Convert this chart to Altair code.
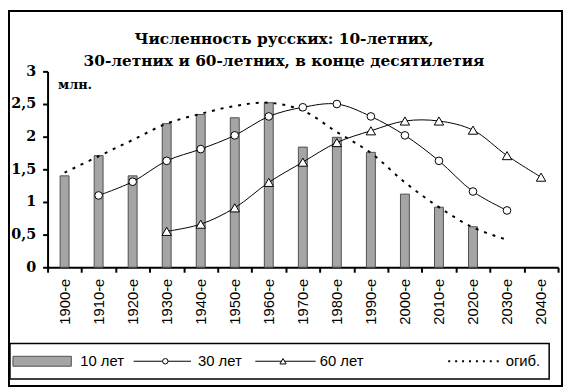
import altair as alt
import pandas as pd

# ---------------- data ----------------
decades = ["1900-е", "1910-е", "1920-е", "1930-е", "1940-е", "1950-е", "1960-е",
           "1970-е", "1980-е", "1990-е", "2000-е", "2010-е", "2020-е", "2030-е", "2040-е"]
age10 = [1.40, 1.71, 1.40, 2.20, 2.34, 2.29, 2.52, 1.84, 1.99, 1.76, 1.12, 0.92, 0.62, None, None]
age30 = [None, 1.10, 1.31, 1.63, 1.81, 2.02, 2.31, 2.45, 2.50, 2.31, 2.02, 1.63, 1.16, 0.87, None]
age60 = [None, None, None, 0.55, 0.66, 0.91, 1.30, 1.61, 1.91, 2.09, 2.24, 2.24, 2.10, 1.71, 1.38]
envelope = [1.45, 1.70, 1.95, 2.20, 2.35, 2.47, 2.52, 2.40, 2.07, 1.75, 1.30, 0.92, 0.61, 0.42, None]
y_ticks = [0, 0.5, 1, 1.5, 2, 2.5, 3]
legend_labels = ["10 лет", "30 лет", "60 лет", "огиб."]
title_lines = ["Численность русских: 10-летних,", "30-летних и 60-летних, в конце десятилетия"]
unit_label = "млн."

df = pd.DataFrame({"decade": decades, "a10": age10, "a30": age30,
                   "a60": age60, "env": envelope})

W, H = 516, 198
SERIF = "DejaVu Serif"
SANS = "Liberation Sans"

x_enc = alt.X("decade:N", sort=decades,
              scale=alt.Scale(paddingInner=0, paddingOuter=0),
              axis=alt.Axis(title=None, labelAngle=270, labelFont=SANS, labelFontSize=15,
                            labelColor="black", labelPadding=6, tickBand="extent",
                            tickSize=5, tickWidth=2, tickColor="black",
                            domainColor="black", domainWidth=2))
y_scale = alt.Scale(domain=[0, 3], nice=False, zero=True)
y_axis = alt.Axis(values=y_ticks, grid=False, labelOverlap=False, tickCount=7,
                  labelExpr="replace(toString(datum.value), '.', ',')",
                  labelFont=SERIF, labelFontSize=14.5, labelFontWeight="bold",
                  labelColor="black", labelPadding=7,
                  tickSize=5, tickWidth=2, tickColor="black",
                  domainColor="black", domainWidth=2,
                  title=unit_label, titleAngle=0, titleX=10, titleY=17,
                  titleAlign="left", titleBaseline="alphabetic",
                  titleFont=SERIF, titleFontSize=13, titleFontWeight="bold",
                  titleColor="black")


def yenc(field):
    return alt.Y(f"{field}:Q", scale=y_scale, axis=y_axis)


base = alt.Chart(df).encode(x=x_enc)

bars = base.mark_bar(size=9, fill="#a5a5a5", stroke="#505050", strokeWidth=1).encode(
    y=yenc("a10"))
env = base.mark_line(color="black", strokeWidth=2, strokeDash=[3, 6],
                     interpolate="catmull-rom").encode(y=yenc("env"))
l30 = base.mark_line(color="black", strokeWidth=1, interpolate="catmull-rom").encode(y=yenc("a30"))
p30 = base.mark_point(shape="circle", filled=True, fill="white", stroke="black",
                      strokeWidth=1, size=60, opacity=1).encode(y=yenc("a30"))
l60 = base.mark_line(color="black", strokeWidth=1, interpolate="catmull-rom").encode(y=yenc("a60"))
p60 = base.mark_point(shape="triangle-up", filled=True, fill="white", stroke="black",
                      strokeWidth=1, size=90, opacity=1).encode(y=yenc("a60"))

# ---------------- decorations: frame, title and legend ----------------
one = alt.Chart(pd.DataFrame({"k": [0]}))
frame = one.mark_rect(fill="transparent", stroke="black", strokeWidth=2).encode(
    x=alt.value(-39), x2=alt.value(520), y=alt.value(-61), y2=alt.value(318))

title_y = [-33, -10]
titles = [one.mark_text(text=t, align="center", baseline="middle", font=SERIF,
                        fontSize=15.5, fontWeight="bold", color="black").encode(
              x=alt.value(239), y=alt.value(ty))
          for t, ty in zip(title_lines, title_y)]

ly = 293
lbox = one.mark_rect(fill="white", stroke="black", strokeWidth=1.5).encode(
    x=alt.value(-38), x2=alt.value(507), y=alt.value(275), y2=alt.value(311))
lbar = one.mark_rect(fill="#a5a5a5", stroke="#505050", strokeWidth=1).encode(
    x=alt.value(-35), x2=alt.value(24), y=alt.value(ly - 5), y2=alt.value(ly + 5))
lr30 = one.mark_rule(color="black", strokeWidth=1).encode(
    x=alt.value(87), x2=alt.value(145), y=alt.value(ly))
lp30 = one.mark_point(shape="circle", filled=True, fill="white", stroke="black",
                      strokeWidth=1, size=30, opacity=1).encode(x=alt.value(119), y=alt.value(ly))
lr60 = one.mark_rule(color="black", strokeWidth=1).encode(
    x=alt.value(210), x2=alt.value(271), y=alt.value(ly))
lp60 = one.mark_point(shape="triangle-up", filled=True, fill="white", stroke="black",
                      strokeWidth=1, size=40, opacity=1).encode(x=alt.value(238), y=alt.value(ly))
lrenv = one.mark_rule(color="black", strokeWidth=2, strokeDash=[2, 5]).encode(
    x=alt.value(405), x2=alt.value(458), y=alt.value(ly))

text_x = [33, 152, 275, 463]
ltexts = [one.mark_text(text=lab, align="left", baseline="middle", font=SANS,
                        fontSize=15, color="black").encode(x=alt.value(tx), y=alt.value(ly))
          for lab, tx in zip(legend_labels, text_x)]

chart = alt.layer(frame, *titles, bars, env, l30, l60, p30, p60,
                  lbox, lbar, lr30, lp30, lr60, lp60, lrenv, *ltexts).properties(
    width=W, height=H,
    autosize=alt.AutoSizeParams(type="none"),
    padding={"left": 40, "top": 62, "right": 6, "bottom": 122},
    background="white",
).configure_view(stroke=None)

chart.save("out.html", embed_options={"renderer": "svg", "actions": False})
